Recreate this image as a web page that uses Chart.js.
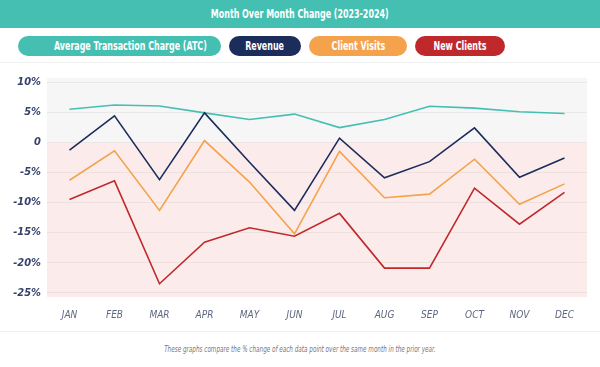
<!DOCTYPE html>
<html>
<head>
<meta charset="utf-8">
<script src="https://cdn.jsdelivr.net/npm/chart.js@4.4.1/dist/chart.umd.min.js"></script>
<style>
  html, body { margin: 0; padding: 0; background: #fff; }
  body { width: 600px; height: 367px; position: relative; overflow: hidden;
    font-family: "DejaVu Sans Condensed", "Liberation Sans Narrow", "Roboto", sans-serif; }
  .title { height: 28px; background: #44bfb2; color: #fff; font-weight: bold; font-size: 13px;
    line-height: 28px; text-align: center; white-space: nowrap; }
  .title span { display: inline-block; transform: scaleX(0.68); }
  .legend { position: absolute; top: 28px; left: 0; width: 600px; height: 34px;
    border-bottom: 1px solid #eef0f0; }
  .pill { position: absolute; top: 8px; height: 20px; line-height: 20px; border-radius: 10px;
    color: #fff; font-weight: bold; font-size: 13px; text-align: center; white-space: nowrap; }
  .pill span { display: inline-block; transform: scaleX(0.68); }
  .wrap { position: absolute; top: 64px; left: 0; width: 600px; height: 262px; }
  .sep { position: absolute; top: 331px; left: 0; width: 600px; border-top: 1px solid #eceeee; }
  .note { position: absolute; top: 344px; left: 0; width: 600px; text-align: center;
    font-size: 9px; font-style: italic; color: #777; white-space: nowrap; }
  .note span { display: inline-block; transform: scaleX(0.7); }
</style>
</head>
<body>
<div class="title"><span>Month Over Month Change (2023-2024)</span></div>
<div class="legend" id="legend"></div>
<div class="wrap"><canvas id="chart"></canvas></div>
<div class="sep"></div>
<div class="note"><span>These graphs compare the % change of each data point over the same month in the prior year.</span></div>
<script>
  var months = ['JAN', 'FEB', 'MAR', 'APR', 'MAY', 'JUN', 'JUL', 'AUG', 'SEP', 'OCT', 'NOV', 'DEC'];
  var seriesNames = ['Average Transaction Charge (ATC)', 'Revenue', 'Client Visits', 'New Clients'];
  var seriesColors = ['#44bfb2', '#1c2d5c', '#f4a24c', '#c0292b'];
  var atc = [5.5, 6.2, 6.05, 4.9, 3.8, 4.7, 2.45, 3.8, 6.0, 5.7, 5.1, 4.8];
  var revenue = [-1.3, 4.4, -6.2, 4.9, -3.3, -11.3, 0.7, -5.9, -3.2, 2.4, -5.8, -2.6];
  var visits = [-6.3, -1.4, -11.3, 0.3, -6.6, -15.2, -1.5, -9.2, -8.6, -2.8, -10.3, -6.9];
  var newClients = [-9.5, -6.4, -23.5, -16.6, -14.2, -15.6, -11.8, -20.9, -20.9, -7.6, -13.6, -8.3];
  var yTicks = [10, 5, 0, -5, -10, -15, -20, -25];

  var pillBoxes = [[18, 203], [229, 72], [309, 98], [415, 90]];
  var legendEl = document.getElementById('legend');
  seriesNames.forEach(function (name, i) {
    var p = document.createElement('div');
    p.className = 'pill';
    var s = document.createElement('span');
    s.textContent = name;
    p.appendChild(s);
    p.style.left = pillBoxes[i][0] + 'px';
    p.style.width = pillBoxes[i][1] + 'px';
    p.style.background = seriesColors[i];
    legendEl.appendChild(p);
  });

  var zoneBg = {
    id: 'zoneBg',
    beforeDraw: function (chart) {
      var a = chart.chartArea;
      var y0 = chart.scales.y.getPixelForValue(0);
      var ctx = chart.ctx;
      ctx.save();
      ctx.fillStyle = '#f6f6f6';
      ctx.fillRect(a.left, a.top, a.right - a.left, y0 - a.top);
      ctx.fillStyle = '#fbeceb';
      ctx.fillRect(a.left, y0, a.right - a.left, a.bottom - y0);
      ctx.restore();
    }
  };

  var allData = [atc, revenue, visits, newClients];
  var datasets = allData.map(function (d, i) {
    return {
      label: seriesNames[i],
      data: d,
      borderColor: seriesColors[i],
      backgroundColor: seriesColors[i],
      borderWidth: 1.6,
      pointRadius: 0,
      tension: 0,
      fill: false
    };
  });

  new Chart(document.getElementById('chart'), {
    type: 'line',
    data: { labels: months, datasets: datasets.slice().reverse() },
    plugins: [zoneBg],
    options: {
      responsive: true,
      maintainAspectRatio: false,
      animation: false,
      layout: { padding: { top: 14, right: 13, left: 0, bottom: 0 } },
      plugins: { legend: { display: false }, tooltip: { enabled: false } },
      scales: {
        x: {
          offset: true,
          grid: { display: false },
          border: { display: false },
          afterFit: function (s) { s.height = 29; },
          ticks: {
            color: '#5d6782',
            padding: 4,
            font: { family: '"DejaVu Sans Condensed", sans-serif', size: 10, style: 'italic' }
          }
        },
        y: {
          min: -25.7,
          max: 10.7,
          afterBuildTicks: function (s) {
            s.ticks = yTicks.map(function (v) { return { value: v }; });
          },
          afterFit: function (s) { s.width = 47; },
          grid: { color: 'rgba(0,0,0,0.05)', drawTicks: false },
          border: { display: false },
          ticks: {
            color: '#34406a',
            padding: 6,
            font: { family: '"DejaVu Sans Condensed", sans-serif', size: 11, style: 'italic', weight: 'bold' },
            callback: function (v) { return v === 0 ? '0' : v + '%'; }
          }
        }
      }
    }
  });
</script>
</body>
</html>
